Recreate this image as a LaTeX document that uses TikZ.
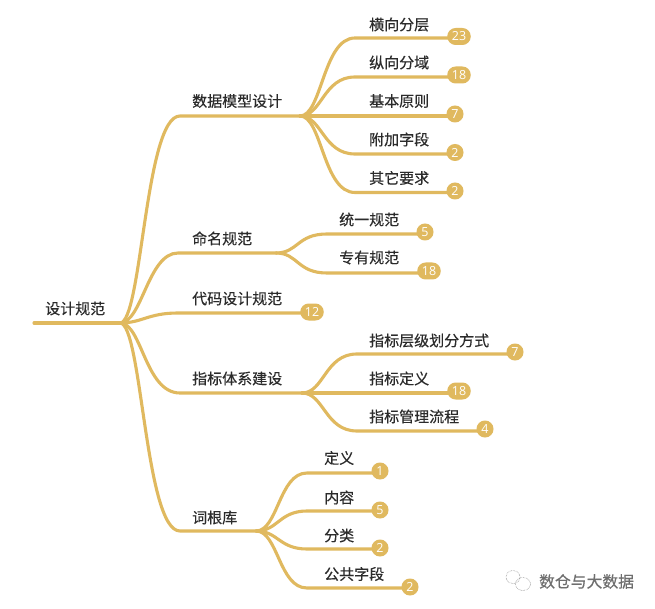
\documentclass[tikz,border=0pt]{standalone}
\usepackage{fontspec}
\setmainfont{Noto Sans CJK SC}[RawFeature={embolden=0.35}]
\newfontfamily\digitfont{Open Sans}
\usetikzlibrary{backgrounds}
\definecolor{gold}{HTML}{E0B95F}
\definecolor{ink}{HTML}{2B2B2B}
\definecolor{wm}{HTML}{6E6E6E}
\tikzset{
  x=1pt,y=-1pt,
  lab/.style={anchor=west,inner sep=0pt,text=ink,font=\fontsize{15}{18}\selectfont},
  badge/.style={fill=gold,text=white,inner sep=0pt,minimum height=17pt,minimum width=17pt,rounded corners=8.4pt,font=\digitfont\fontsize{12.5}{13}\selectfont},
  wide/.style={badge,minimum width=23.5pt},
  link/.style={draw=gold,line width=3.1pt,line cap=round},
}
\newcommand{\branch}[3]{\draw[link] (#1) .. controls +(22,0) and +(-#3,0) .. (#2)}
\begin{document}
\begin{tikzpicture}
\useasboundingbox (0,0) rectangle (655,609);
% labels
\node[lab] (root) at (45,308.5) {设计规范};
\node[lab] (n1) at (192,101) {数据模型设计};
\node[lab] (n2) at (192,238.5) {命名规范};
\node[lab] (n3) at (192,298.5) {代码设计规范};
\node[lab] (n4) at (192,378.5) {指标体系建设};
\node[lab] (n5) at (192,517.5) {词根库};
\node[lab] (a1) at (369,24.5) {横向分层};
\node[lab] (a2) at (369,62.5) {纵向分域};
\node[lab] (a3) at (369,101) {基本原则};
\node[lab] (a4) at (369,139.5) {附加字段};
\node[lab] (a5) at (369,178) {其它要求};
\node[lab] (c1) at (339,219.5) {统一规范};
\node[lab] (c2) at (339,257.5) {专有规范};
\node[lab] (d1) at (369,340.5) {指标层级划分方式};
\node[lab] (d2) at (369,378.5) {指标定义};
\node[lab] (d3) at (369,416.5) {指标管理流程};
\node[lab] (e1) at (324,458) {定义};
\node[lab] (e2) at (324,497.5) {内容};
\node[lab] (e3) at (324,535.5) {分类};
\node[lab] (e4) at (324,574) {公共字段};
% badges
\node[wide] (ba1) at (459,36.5) {23};
\node[wide] (ba2) at (459,75) {18};
\node[badge] (ba3) at (455,114) {7};
\node[badge] (ba4) at (455,152.5) {2};
\node[badge] (ba5) at (455,191) {2};
\node[badge] (bc1) at (425,232) {5};
\node[wide] (bc2) at (429,271) {18};
\node[wide] (bn3) at (312,312) {12};
\node[badge] (bd1) at (515,352) {7};
\node[wide] (bd2) at (459,391) {18};
\node[badge] (bd3) at (485,429) {4};
\node[badge] (be1) at (380,471) {1};
\node[badge] (be2) at (380,510) {5};
\node[badge] (be3) at (380,548) {2};
\node[badge] (be4) at (410,587) {2};
% joints
\coordinate (start) at (34,323);
\coordinate (h0) at (120,323);
\coordinate (h1) at (300,116);
\coordinate (h2) at (276,253);
\coordinate (h4) at (302,393);
\coordinate (h5) at (256,531);
\coordinate (k1) at (180,116);
\coordinate (k2) at (178,253);
\coordinate (k3) at (178,313);
\coordinate (k4) at (180,393);
\coordinate (k5) at (180,531);
\coordinate (ka1) at (355,38);
\coordinate (ka2) at (355,77);
\coordinate (ka4) at (355,154);
\coordinate (ka5) at (355,192.5);
\coordinate (kc1) at (327,234);
\coordinate (kc2) at (327,273);
\coordinate (kd1) at (357,354);
\coordinate (kd2) at (357,393);
\coordinate (kd3) at (357,431);
\coordinate (ke1) at (307,473);
\coordinate (ke2) at (307,511);
\coordinate (ke3) at (307,549);
\coordinate (ke4) at (307,588);
% connectors
\begin{scope}[on background layer]
\fill[white] (0,0) rectangle (655,609);
\draw[link] (start) -- (h0);
\branch{h0}{k1}{35} -- (h1);
\branch{h0}{k2}{30} -- (h2);
\branch{h0}{k3}{30} -- (k3 -| bn3);
\branch{h0}{k4}{35} -- (h4);
\branch{h0}{k5}{35} -- (h5);
\branch{h1}{ka1}{32} -- (ka1 -| ba1);
\branch{h1}{ka2}{32} -- (ka2 -| ba2);
\draw[link] (h1) -- (h1 -| ba3);
\branch{h1}{ka4}{32} -- (ka4 -| ba4);
\branch{h1}{ka5}{32} -- (ka5 -| ba5);
\branch{h2}{kc1}{30} -- (kc1 -| bc1);
\branch{h2}{kc2}{30} -- (kc2 -| bc2);
\branch{h4}{kd1}{32} -- (kd1 -| bd1);
\draw[link] (h4) -- (h4 -| bd2);
\branch{h4}{kd3}{32} -- (kd3 -| bd3);
\branch{h5}{ke1}{28} -- (ke1 -| be1);
\branch{h5}{ke2}{28} -- (ke2 -| be2);
\branch{h5}{ke3}{28} -- (ke3 -| be3);
\branch{h5}{ke4}{28} -- (ke4 -| be4);
\end{scope}
% watermark
\draw[wm,line width=0.5pt,densely dotted] (513,577) ellipse [x radius=7,y radius=6.5];
\draw[wm,line width=0.5pt,densely dotted] (523,584) ellipse [x radius=7.5,y radius=6.5];
\node[anchor=west,inner sep=0pt,text=wm,font=\fontsize{15.8}{18}\selectfont] (mark) at (539,581.5) {数仓与大数据};
\end{tikzpicture}
\end{document}
